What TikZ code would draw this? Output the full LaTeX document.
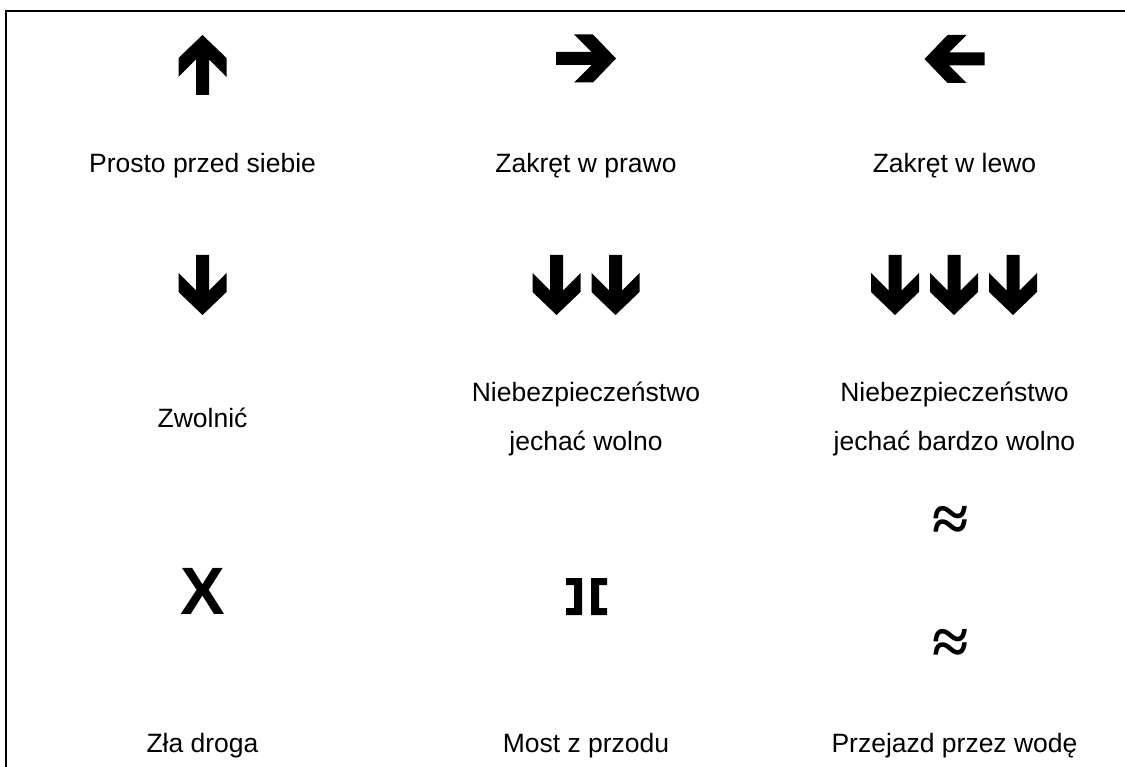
\documentclass[tikz,border=0pt]{standalone}
\usepackage{fontspec}
\setmainfont{Liberation Sans}
\newfontfamily\wavefont{Liberation Serif}
\usetikzlibrary{positioning}

\tikzset{
  signlabel/.style={font=\fontsize{26.5}{32}\selectfont, anchor=base, inner sep=0pt},
  bigmark/.style={font=\fontsize{67}{67}\selectfont\bfseries, anchor=base, inner sep=0pt},
  wavemark/.style={font=\wavefont\fontsize{66}{66}\selectfont\bfseries, inner sep=0pt},
  pics/heavyarrow/.style={code={
    \fill (-6.5,-30) -- (6.5,-30) -- (6.5,5.5) -- (24,-12) -- (24,7) -- (0,30)
      -- (-24,7) -- (-24,-12) -- (-6.5,5.5) -- cycle;
  }}
}

\begin{document}
\begin{tikzpicture}[x=1pt, y=-1pt]
  \useasboundingbox (0,0) rectangle (1125,767);

  % Frame, open at right and bottom
  \draw[line width=2pt] (6,780) -- (6,11) -- (1140,11);

  % Row 1: direction signs
  \pic[rotate=180] at (202.5,65) {heavyarrow};
  \pic[rotate=90] at (586,58.5) {heavyarrow};
  \pic[rotate=-90] at (954.5,59) {heavyarrow};
  \node[signlabel] (straight) at (202.5,173) {Prosto przed siebie};
  \node[signlabel] (right) at (586,173) {Zakręt w prawo};
  \node[signlabel] (left) at (954.5,173) {Zakręt w lewo};

  % Row 2: slow down signs
  \pic at (202.5,285) {heavyarrow};
  \foreach \x in {556.5,615.5}
    \pic at (\x,285) {heavyarrow};
  \foreach \x in {895,954,1013}
    \pic at (\x,285) {heavyarrow};
  \node[signlabel] (slow) at (202.5,427) {Zwolnić};
  \node[signlabel] (danger) at (586,402) {Niebezpieczeństwo};
  \node[signlabel] (dangerslow) at (586,450) {jechać wolno};
  \node[signlabel] (dangerb) at (954.5,402) {Niebezpieczeństwo};
  \node[signlabel] (dangerveryslow) at (954.5,450) {jechać bardzo wolno};

  % Row 3: road signs
  \node[bigmark] (cross) at (202.5,614) {X};
  \fill (566,578) -- (582,578) -- (582,615) -- (566,615) -- (566,608) -- (574,608)
    -- (574,585) -- (566,585) -- cycle;
  \fill (607,578) -- (591,578) -- (591,615) -- (607,615) -- (607,608) -- (599,608)
    -- (599,585) -- (607,585) -- cycle;
  \node[wavemark] (waveup) at (951,524) {≈};
  \node[wavemark] (wavedown) at (951,646.5) {≈};
  \node[signlabel] (badroad) at (202.5,752) {Zła droga};
  \node[signlabel] (bridge) at (586,752) {Most z przodu};
  \node[signlabel] (water) at (954.5,752) {Przejazd przez wodę};
\end{tikzpicture}
\end{document}
